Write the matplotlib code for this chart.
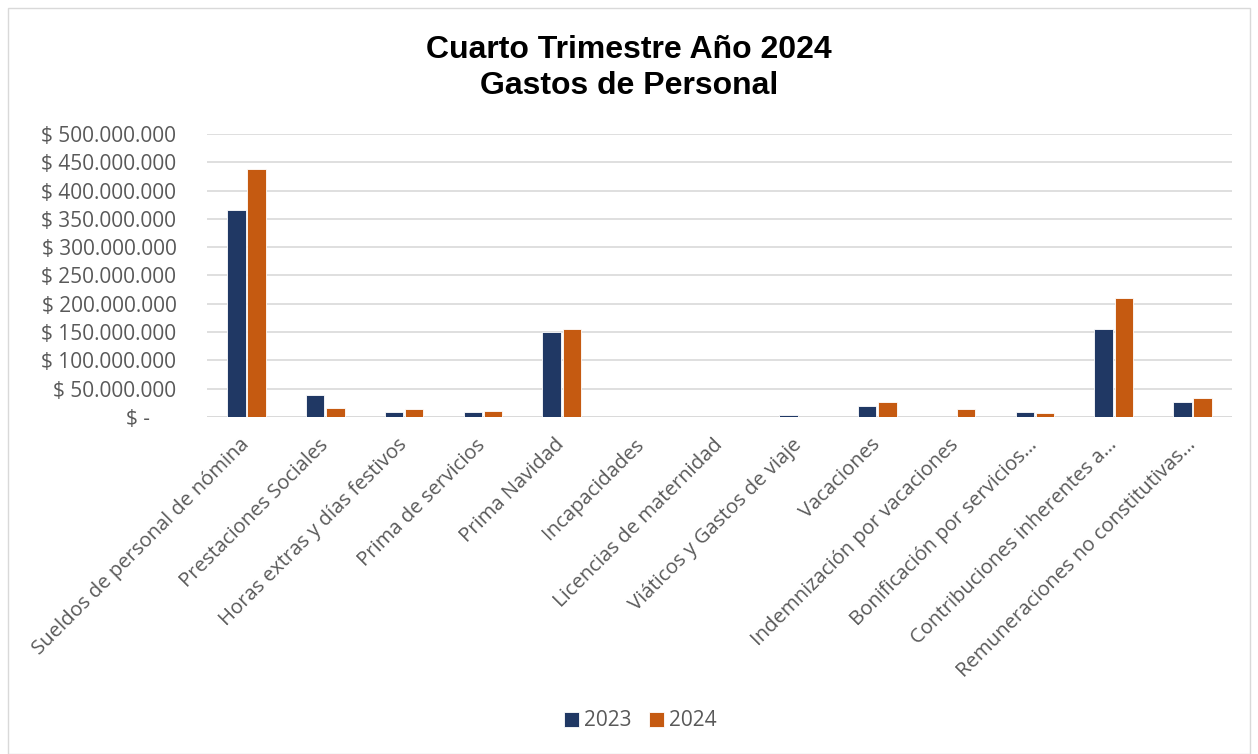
import matplotlib.pyplot as plt
import numpy as np
from matplotlib.ticker import FuncFormatter

categorias = [
    "Sueldos de personal de nómina",
    "Prestaciones Sociales",
    "Horas extras y días festivos",
    "Prima de servicios",
    "Prima Navidad",
    "Incapacidades",
    "Licencias de maternidad",
    "Viáticos y Gastos de viaje",
    "Vacaciones",
    "Indemnización por vacaciones",
    "Bonificación por servicios…",
    "Contribuciones inherentes a…",
    "Remuneraciones no constitutivas…",
]
valores_2023 = [366e6, 38e6, 8e6, 9e6, 150e6, 0, 0, 4e6, 19e6, 0, 9e6, 155e6, 26e6]
valores_2024 = [438e6, 16e6, 14.5e6, 10.5e6, 156e6, 0, 0, 0.5e6, 26e6, 14.5e6, 7e6, 210e6, 33e6]
anios = ["2023", "2024"]
colores = ["#203864", "#C55A11"]

plt.rcParams['font.family'] = ['Open Sans', 'DejaVu Sans']

fig = plt.figure(figsize=(12.58, 7.54), dpi=100)
ax = fig.add_axes([207 / 1258, 1 - 417 / 754, 1025 / 1258, 283 / 754])

x = np.arange(len(categorias))
w = 0.235
ax.bar(x - w / 2 - 0.01, valores_2023, w, color=colores[0], edgecolor='white', linewidth=0.6, label=anios[0], zorder=3)
ax.bar(x + w / 2 + 0.01, valores_2024, w, color=colores[1], edgecolor='white', linewidth=0.6, label=anios[1], zorder=3)

ax.set_xlim(-0.5, len(categorias) - 0.5)
ax.set_ylim(0, 500e6)
ax.set_yticks(np.arange(0, 500e6 + 1, 50e6))


def fmt(v, pos):
    if v == 0:
        return "$ -     "
    return "$ " + f"{int(v):,}".replace(",", ".")


ax.yaxis.set_major_formatter(FuncFormatter(fmt))
ax.grid(axis='y', color='#d9d9d9', linewidth=1.2, zorder=0)
for s in ax.spines.values():
    s.set_visible(False)
ax.axhline(0, color='#d9d9d9', linewidth=1.2, zorder=1)
ax.tick_params(axis='y', length=0, colors='#595959', labelsize=15, pad=22)
ax.set_xticks(x)
ax.set_xticklabels(categorias, rotation=45, ha='right', rotation_mode='anchor', va='center')
ax.tick_params(axis='x', length=0, colors='#595959', labelsize=14.6, pad=18)

fig.text(0.5, 1 - 68 / 754, "Cuarto Trimestre Año 2024\nGastos de Personal", ha='center', va='center',
         fontsize=23, fontweight='bold', family='Liberation Sans', linespacing=1.25)

leg = fig.legend(loc='center', bbox_to_anchor=(0.509, 1 - 721 / 754), ncol=2, frameon=False,
                 fontsize=15, handlelength=0.7, handleheight=0.7, columnspacing=0.85, handletextpad=0.25)
for t in leg.get_texts():
    t.set_color('#595959')

fig.patches.append(plt.Rectangle((8 / 1258, 0), 1242 / 1258, 1 - 8 / 754, transform=fig.transFigure,
                                 fill=False, edgecolor='#d9d9d9', linewidth=1))

fig.savefig("out.png", dpi=100)
